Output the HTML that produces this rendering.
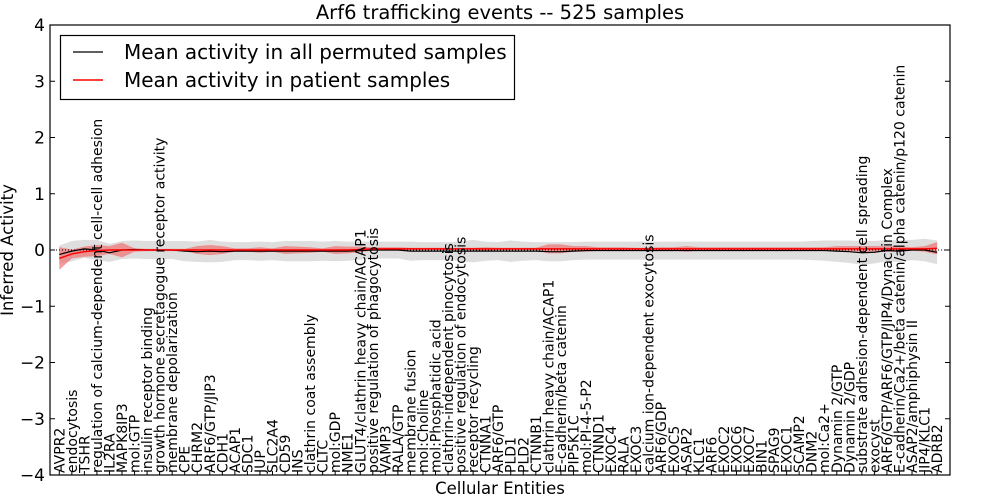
<!DOCTYPE html>
<html><head><meta charset="utf-8"><style>
body{margin:0;background:#fff;}
svg{display:block;font-family:"DejaVu Sans","Liberation Sans",sans-serif;}
</style></head><body>
<svg id="chart" width="1000" height="500"></svg>
<script>
const labels=["AVPR2","endocytosis","TSHR","regulation of calcium-dependent cell-cell adhesion","IL2RA","MAPK8IP3","mol:GTP","insulin receptor binding","growth hormone secretagogue receptor activity","membrane depolarization","CPE","CHRM2","ARF6/GTP/JIP3","CDH1","ACAP1","SDC1","JUP","SLC2A4","CD59","INS","clathrin coat assembly","CLTC","mol:GDP","NME1","GLUT4/clathrin heavy chain/ACAP1","positive regulation of phagocytosis","VAMP3","RALA/GTP","membrane fusion","mol:Choline","mol:Phosphatidic acid","clathrin-independent pinocytosis","positive regulation of endocytosis","receptor recycling","CTNNA1","ARF6/GTP","PLD1","PLD2","CTNNB1","clathrin heavy chain/ACAP1","E-cadherin/beta catenin","PIP5K1C","mol:PI-4-5-P2","CTNND1","EXOC4","RALA","EXOC3","calcium ion-dependent exocytosis","ARF6/GDP","EXOC5","ASAP2","KLC1","ARF6","EXOC2","EXOC6","EXOC7","BIN1","SPAG9","EXOC1","SCAMP2","DNM2","mol:Ca2+","Dynamin 2/GTP","Dynamin 2/GDP","substrate adhesion-dependent cell spreading","exocyst","ARF6/GTP/ARF6/GTP/JIP4/Dynactin Complex","E-cadherin/Ca2+/beta catenin/alpha catenin/p120 catenin","ASAP2/amphiphysin II","JIP4/KLC1","ADRB2"];
const permMean=[-0.08,-0.02,0.02,0,-0.05,0,0.01,0,0,0,-0.02,-0.03,-0.02,-0.03,-0.02,-0.02,-0.02,-0.02,-0.02,-0.02,-0.02,-0.02,-0.02,-0.02,-0.01,0,0,0,-0.02,-0.02,-0.02,-0.02,-0.02,-0.02,-0.02,-0.02,-0.02,-0.02,-0.02,-0.03,-0.03,-0.02,-0.01,-0.01,-0.01,-0.01,-0.01,-0.01,-0.01,-0.01,-0.01,-0.01,-0.01,-0.01,-0.01,-0.01,-0.01,-0.01,-0.01,-0.01,-0.01,-0.01,-0.02,-0.03,-0.05,-0.04,-0.01,-0.02,0,0,-0.04];
const permBand=[0.16,0.18,0.16,0.18,0.16,0.16,0.16,0.16,0.16,0.16,0.18,0.18,0.2,0.18,0.16,0.16,0.17,0.16,0.18,0.18,0.18,0.17,0.18,0.17,0.16,0.15,0.15,0.15,0.17,0.16,0.16,0.16,0.17,0.2,0.17,0.16,0.19,0.17,0.16,0.17,0.17,0.16,0.16,0.16,0.16,0.16,0.16,0.16,0.16,0.16,0.16,0.16,0.16,0.16,0.16,0.16,0.16,0.16,0.16,0.16,0.17,0.18,0.19,0.2,0.21,0.2,0.19,0.19,0.18,0.2,0.21];
const patientMean=[-0.15,-0.07,-0.03,-0.01,0,0,0,0,0,0,0,0,0,0,0,0,0,0,0,0,0,0,0,0,0.01,0.02,0.02,0.02,0.02,0.02,0.02,0.02,0.02,0.02,0.02,0.02,0.02,0.02,0.02,0.02,0.02,0.02,0.02,0.02,0.02,0.02,0.02,0.02,0.02,0.02,0.02,0.02,0.02,0.02,0.02,0.02,0.02,0.02,0.02,0.02,0.02,0.02,0.02,0.02,0.02,0.02,0.02,0.02,0.02,0.02,0.03];
const patientBand=[0.2,0.08,0.09,0.1,0.07,0.13,0.03,0.02,0.02,0.02,0.02,0.07,0.09,0.07,0.03,0.03,0.05,0.03,0.07,0.06,0.05,0.03,0.07,0.06,0.05,0.03,0.03,0.03,0.02,0.02,0.02,0.02,0.02,0.02,0.03,0.02,0.02,0.02,0.02,0.08,0.08,0.05,0.05,0.03,0.03,0.03,0.02,0.02,0.03,0.03,0.05,0.03,0.03,0.03,0.03,0.03,0.03,0.03,0.03,0.03,0.03,0.03,0.05,0.05,0.05,0.05,0.05,0.05,0.03,0.05,0.11];
const yTicks=[-4,-3,-2,-1,0,1,2,3,4];

const NS="http://www.w3.org/2000/svg";
const svg=document.getElementById('chart');
const L=50,R=950,T=25,B=475;
const n=labels.length;
const xs=i=>L+9.3+i*12.54;
const ys=v=>T+(4-v)*(B-T)/8;
function mk(tag,attrs,parent){const e=document.createElementNS(NS,tag);for(const k in attrs)e.setAttribute(k,attrs[k]);(parent||svg).appendChild(e);return e;}
function bandPath(mean,band){let d='';for(let i=0;i<n;i++)d+=(i?'L':'M')+xs(i)+','+ys(mean[i]+band[i]);for(let i=n-1;i>=0;i--)d+='L'+xs(i)+','+ys(mean[i]-band[i]);return d+'Z';}
function linePath(mean){let d='';for(let i=0;i<n;i++)d+=(i?'L':'M')+xs(i)+','+ys(mean[i]);return d;}

const gb=mk('path',{d:bandPath(permMean,permBand),fill:'#d6d6d6','fill-opacity':'0.8',stroke:'none'});


const rb=mk('path',{d:bandPath(patientMean,patientBand),fill:'#f07070','fill-opacity':'0.7',stroke:'none'});


const zl=mk('line',{x1:L,x2:R,y1:ys(0),y2:ys(0),stroke:'#000','stroke-dasharray':'1,2','stroke-width':1});


const bl=mk('path',{d:linePath(permMean),fill:'none',stroke:'#000','stroke-width':1.2});


const rl=mk('path',{d:linePath(patientMean),fill:'none',stroke:'#ff0000','stroke-width':1.5});



for(const t of yTicks){
  const y=ys(t);
  mk('line',{x1:L,x2:L+5,y1:y,y2:y,stroke:'#000'});
  mk('line',{x1:R,x2:R-5,y1:y,y2:y,stroke:'#000'});
  const tx=mk('text',{x:L-5,y:y+6,'text-anchor':'end','font-size':17});
  tx.textContent=(t<0?'\u2212':'')+Math.abs(t);
  
  
}
for(let i=0;i<n;i++){
  const x=xs(i);
  mk('line',{x1:x,x2:x,y1:B,y2:B-4,stroke:'#000'});
  const tx=mk('text',{x:0,y:0,transform:`translate(${x+5},${B-2}) rotate(-90)`,'font-size':14});
  tx.textContent=labels[i];
  
  
}
const fr=mk('rect',{x:L,y:T,width:R-L,height:B-T,fill:'none',stroke:'#000','stroke-width':1.2});



const title=mk('text',{x:500,y:19,'text-anchor':'middle','font-size':19.5});
title.textContent='Arf6 trafficking events -- 525 samples';


const xt=mk('text',{x:500,y:494,'text-anchor':'middle','font-size':16.5});
xt.textContent='Cellular Entities';


const yt=mk('text',{x:0,y:0,transform:'translate(13,250) rotate(-90)','text-anchor':'middle','font-size':16.5});
yt.textContent='Inferred Activity';



const lg=mk('g',{});


mk('rect',{x:60.5,y:35.5,width:454,height:64,fill:'#fff',stroke:'#000','stroke-width':1.2},lg);
mk('line',{x1:73,x2:103,y1:52,y2:52,stroke:'#000','stroke-width':1.2},lg);
mk('line',{x1:73,x2:103,y1:80,y2:80,stroke:'#ff0000','stroke-width':1.5},lg);
const l1=mk('text',{x:124,y:59,'font-size':20},lg);
l1.textContent='Mean activity in all permuted samples';


const l2=mk('text',{x:124,y:87,'font-size':20},lg);
l2.textContent='Mean activity in patient samples';


</script>
</body></html>
